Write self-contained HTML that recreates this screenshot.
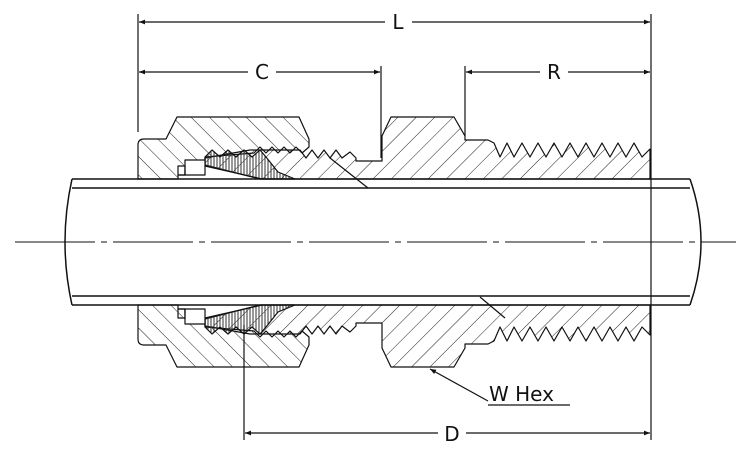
<!DOCTYPE html>
<html><head><meta charset="utf-8"><style>
html,body{margin:0;padding:0;background:#fff;}
svg{display:block;}
text{font-family:"DejaVu Sans","Liberation Sans",sans-serif;fill:#111;}
</style></head><body>
<svg width="751" height="459" viewBox="0 0 751 459" xmlns="http://www.w3.org/2000/svg">
<defs>
<pattern id="hA" patternUnits="userSpaceOnUse" width="13" height="13" patternTransform="rotate(45)">
<line x1="0" y1="0" x2="0" y2="13" stroke="#222" stroke-width="1"/></pattern>
<pattern id="hB" patternUnits="userSpaceOnUse" width="13" height="13" patternTransform="rotate(-45)">
<line x1="0" y1="0" x2="0" y2="13" stroke="#222" stroke-width="1"/></pattern>
<pattern id="hF" patternUnits="userSpaceOnUse" width="3" height="3">
<line x1="1" y1="0" x2="1" y2="3" stroke="#333" stroke-width="1"/></pattern>
<marker id="ar" viewBox="0 0 10 10" refX="10" refY="5" markerWidth="9" markerHeight="6" orient="auto-start-reverse" markerUnits="userSpaceOnUse">
<path d="M0,1 L10,5 L0,9 Z" fill="#111"/></marker>
</defs>

<g stroke="#111" stroke-width="1.2" stroke-linejoin="round">
<!-- TOP -->
<path fill="url(#hA)" d="M300,150 L306,158 L312,150 L318,158 L324,150 L330,158 L336,150 L342,158 L350,152 L356,158 L356,161 L382,161 L382,136 L391,117 L454,117 L465,136 L465,140 L488,140 L494,143 L500,157 L507,143 L514,157 L522,143 L530,157 L538,143 L546,157 L554,143 L562,157 L570,143 L578,157 L586,143 L594,157 L602,143 L610,157 L618,143 L626,157 L634,143 L642,157 L650,149 L650,179 L260,179 L205,165 L205,158 L250,150 Z"/>
<path fill="url(#hB)" d="M138,179 L138,145 Q138,139 144,139 L166,139 L177,117 L299,117 L309,139 L309,147 L302,153 L296,147 L290,153 L284,147 L278,153 L272,147 L266,153 L260,147 L254,153 L205,157 L205,164 L195,164 L195,170 L185,170 L185,175 L178,175 L178,179 Z"/>
<path fill="url(#hF)" d="M205,157 L212,150 L220,157 L228,150 L236,157 L244,150 L252,157 L260,150 L266,157 L278,172 L295,179 L262,179 L205,166 Z"/>
<path fill="#fff" d="M185,160 L205,160 L205,175 L185,175 Z"/>
<path fill="none" d="M178,166 L185,166 L185,175 L178,175 Z"/>
<line x1="330" y1="158" x2="368" y2="188"/>
<!-- BOTTOM (mirrored) -->
<g transform="translate(0,484) scale(1,-1)">
<path fill="url(#hB)" d="M300,150 L306,158 L312,150 L318,158 L324,150 L330,158 L336,150 L342,158 L350,152 L356,158 L356,161 L382,161 L382,136 L391,117 L454,117 L465,136 L465,140 L488,140 L494,143 L500,157 L507,143 L514,157 L522,143 L530,157 L538,143 L546,157 L554,143 L562,157 L570,143 L578,157 L586,143 L594,157 L602,143 L610,157 L618,143 L626,157 L634,143 L642,157 L650,149 L650,179 L260,179 L205,165 L205,158 L250,150 Z"/>
<path fill="url(#hA)" d="M138,179 L138,145 Q138,139 144,139 L166,139 L177,117 L299,117 L309,139 L309,147 L302,153 L296,147 L290,153 L284,147 L278,153 L272,147 L266,153 L260,147 L254,153 L205,157 L205,164 L195,164 L195,170 L185,170 L185,175 L178,175 L178,179 Z"/>
<path fill="url(#hF)" d="M205,157 L212,150 L220,157 L228,150 L236,157 L244,150 L252,157 L260,150 L266,157 L278,172 L295,179 L262,179 L205,166 Z"/>
<path fill="#fff" d="M185,160 L205,160 L205,175 L185,175 Z"/>
<path fill="none" d="M178,166 L185,166 L185,175 L178,175 Z"/>
<line x1="480" y1="187" x2="505" y2="166"/>
</g>
</g>

<g stroke="#111" stroke-width="1.2" fill="none">
<line x1="138" y1="14" x2="138" y2="132"/>
<line x1="651" y1="14" x2="651" y2="440"/>
<line x1="381" y1="66" x2="381" y2="158"/>
<line x1="465" y1="66" x2="465" y2="136"/>
<line x1="244" y1="325" x2="244" y2="440"/>
<g stroke-width="1.5">
<line x1="72" y1="179" x2="690" y2="179"/>
<line x1="72" y1="188" x2="690" y2="188"/>
<line x1="72" y1="296" x2="690" y2="296"/>
<line x1="72" y1="305" x2="690" y2="305"/>
<path d="M72,179 Q58,242 72,305"/>
<path d="M690,179 Q712,242 690,305"/>
</g>
<line x1="15" y1="242" x2="736" y2="242" stroke-dasharray="80,6,6,6" stroke-width="1"/>
<line x1="139" y1="22" x2="385" y2="22" marker-start="url(#ar)"/>
<line x1="412" y1="22" x2="650" y2="22" marker-end="url(#ar)"/>
<line x1="139" y1="72" x2="248" y2="72" marker-start="url(#ar)"/>
<line x1="276" y1="72" x2="380" y2="72" marker-end="url(#ar)"/>
<line x1="466" y1="72" x2="540" y2="72" marker-start="url(#ar)"/>
<line x1="568" y1="72" x2="650" y2="72" marker-end="url(#ar)"/>
<line x1="245" y1="433" x2="438" y2="433" marker-start="url(#ar)"/>
<line x1="466" y1="433" x2="650" y2="433" marker-end="url(#ar)"/>
<line x1="488" y1="401" x2="430" y2="369" marker-end="url(#ar)"/>
<line x1="488" y1="405" x2="570" y2="405"/>
</g>
<g font-size="20">
<text x="398" y="29" text-anchor="middle">L</text>
<text x="262" y="79" text-anchor="middle">C</text>
<text x="554" y="79" text-anchor="middle">R</text>
<text x="452" y="441" text-anchor="middle">D</text>
<text x="489" y="401">W Hex</text>
</g>
</svg>
</body></html>
